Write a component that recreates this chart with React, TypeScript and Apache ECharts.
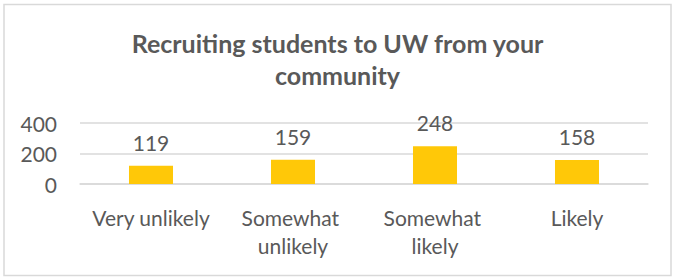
import React, { useEffect, useRef } from "react";
import * as echarts from "echarts";

const TITLE = "Recruiting students to UW from your\ncommunity";
const categories = ["Very unlikely", "Somewhat unlikely", "Somewhat likely", "Likely"];
const values = [119, 159, 248, 158];
const yTicks = [0, 200, 400];

const FONT = "Lato, 'Noto Sans', sans-serif";
const TEXT = "#595959";

export default function App() {
  const ref = useRef<HTMLDivElement>(null);
  useEffect(() => {
    document.body.style.margin = "0";
    const chart = echarts.init(ref.current!, null, { renderer: "svg" });
    chart.setOption({
      animation: false,
      backgroundColor: "#ffffff",
      textStyle: { fontFamily: FONT },
      title: {
        text: TITLE,
        left: "center",
        top: 22,
        textStyle: {
          fontFamily: FONT,
          fontWeight: "bold",
          fontSize: 25,
          lineHeight: 32,
          color: TEXT,
        },
      },
      graphic: [
        {
          type: "rect",
          shape: { x: 4, y: 4.5, width: 667, height: 271 },
          style: { fill: "none", stroke: "#d9d9d9", lineWidth: 1.5 },
          silent: true,
        },
      ],
      grid: { left: 80, right: 27, top: 123, bottom: 94 },
      xAxis: {
        type: "category",
        data: categories,
        axisLine: { show: true, lineStyle: { color: "#d9d9d9", width: 1.5 } },
        axisTick: { show: false },
        axisLabel: {
          color: TEXT,
          fontFamily: FONT,
          fontSize: 21,
          lineHeight: 28,
          margin: 19,
          interval: 0,
          width: 138,
          overflow: "break",
        },
      },
      yAxis: {
        type: "value",
        min: yTicks[0],
        max: yTicks[yTicks.length - 1],
        interval: 200,
        axisLine: { show: false },
        axisTick: { show: false },
        splitLine: { lineStyle: { color: "#d9d9d9", width: 1.5 } },
        axisLabel: { color: TEXT, fontFamily: FONT, fontSize: 21, margin: 23 },
      },
      series: [
        {
          type: "bar",
          data: values,
          barWidth: "31%",
          itemStyle: { color: "#FFC808" },
          label: {
            show: true,
            position: "top",
            distance: 13,
            color: TEXT,
            fontFamily: FONT,
            fontSize: 21,
          },
        },
      ],
    });
    return () => chart.dispose();
  }, []);
  return <div ref={ref} style={{ width: 675, height: 278 }} />;
}
